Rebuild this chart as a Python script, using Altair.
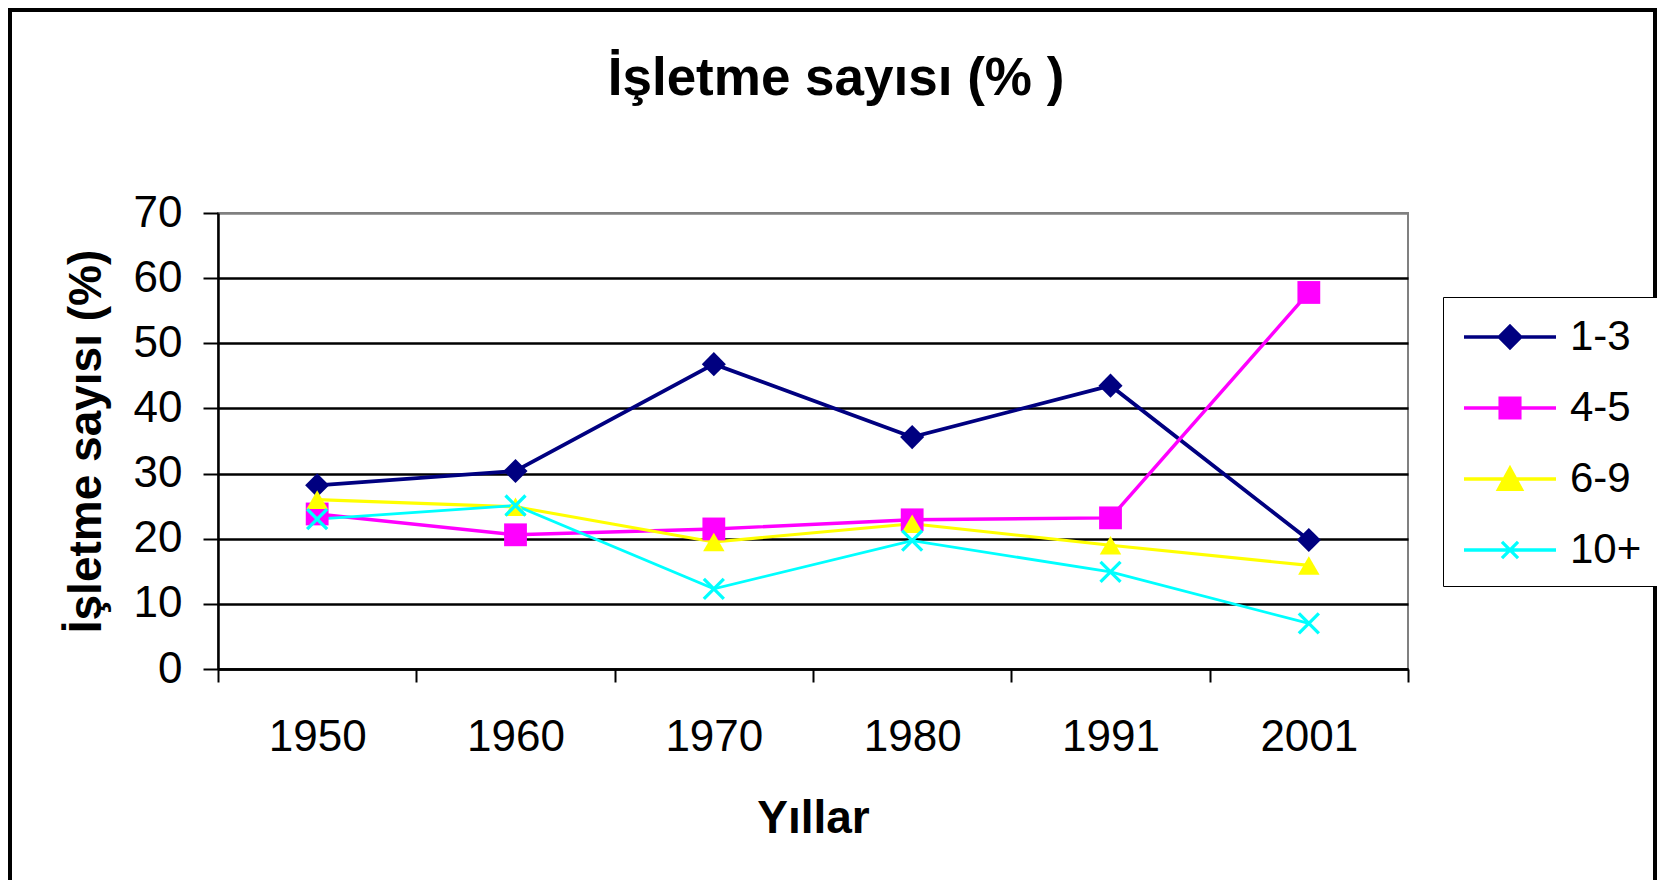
import altair as alt
import pandas as pd

# ---- data ----
years = ["1950", "1960", "1970", "1980", "1991", "2001"]
series_names = ["1-3", "4-5", "6-9", "10+"]
s_1_3 = [28.2, 30.4, 46.8, 35.6, 43.5, 19.8]
s_4_5 = [23.8, 20.6, 21.5, 22.9, 23.2, 57.8]
s_6_9 = [26.0, 24.9, 19.5, 22.3, 19.0, 15.9]
s_10p = [23.0, 25.1, 12.3, 19.7, 14.9, 7.0]
y_ticks = [0, 10, 20, 30, 40, 50, 60, 70]

colors = ["#000080", "#FF00FF", "#FFFF00", "#00FFFF"]
shapes = ["diamond", "square", "triangle-up", "M-1,-1L1,1M-1,1L1,-1"]
sizes = [580, 400, 620, 300]
line_widths = [3.8, 2.8, 3.8, 3.8]
# legend symbols: a line with the series marker in the middle
leg_paths = [
    "M-2,0L2,0M0,-0.47L0.47,0L0,0.47L-0.47,0Z",
    "M-2,0L2,0M-0.43,-0.43L0.43,-0.43L0.43,0.43L-0.43,0.43Z",
    "M-2,0L2,0M0,-0.47L0.5,0.45L-0.5,0.45Z",
    "M-2,0L2,0M-0.35,-0.35L0.35,0.35M-0.35,0.35L0.35,-0.35",
]

FONT = "Liberation Sans"

rows = []
for name, vals in zip(series_names, [s_1_3, s_4_5, s_6_9, s_10p]):
    for yr, v in zip(years, vals):
        rows.append({"year": yr, "value": v, "series": name})
df = pd.DataFrame(rows)

x_enc = alt.X(
    "year:O",
    sort=years,
    bandPosition=0.5,
    scale=alt.Scale(type="band", paddingInner=0, paddingOuter=0),
    axis=alt.Axis(
        title="Yıllar",
        labelAngle=0,
        tickBand="extent",
        tickSize=13,
        tickWidth=2,
        tickColor="black",
        domainColor="black",
        domainWidth=2.5,
        labelPadding=33,
        labelFontSize=44,
        labelFont=FONT,
        labelColor="black",
        titleFont=FONT,
        titleFontSize=46,
        titleFontWeight="bold",
        titleColor="black",
        titleX=595,
        titleY=163,
        titleBaseline="alphabetic",
        titleAlign="center",
        grid=False,
    ),
)

y_enc = alt.Y(
    "value:Q",
    scale=alt.Scale(domain=[0, 70], nice=False),
    axis=alt.Axis(
        title="İşletme sayısı (%)",
        values=y_ticks,
        tickSize=15,
        tickWidth=2,
        tickColor="black",
        domainColor="black",
        domainWidth=2.5,
        labelPadding=21,
        labelFontSize=44,
        labelFont=FONT,
        labelColor="black",
        titleFont=FONT,
        titleFontSize=46,
        titleFontWeight="bold",
        titleColor="black",
        titleX=-118,
        titleY=228,
        titleAngle=270,
        titleBaseline="alphabetic",
        titleAlign="center",
        grid=True,
        gridColor={"condition": {"test": "datum.value == 70", "value": "#808080"}, "value": "black"},
        gridWidth=2.3,
    ),
)

legend = alt.Legend(
    title=None,
    orient="none",
    legendX=1225,
    legendY=84,
    strokeColor="black",
    fillColor="white",
    padding=15,
    symbolSize=2116,
    symbolOffset=27,
    symbolStrokeWidth=3.3,
    symbolOpacity=1,
    labelOffset=35,
    rowPadding=25,
    labelFont=FONT,
    labelFontSize=42,
    labelColor="black",
)

base = alt.Chart(df)

lines = base.mark_line().encode(
    x=x_enc,
    y=y_enc,
    color=alt.Color("series:N", scale=alt.Scale(domain=series_names, range=colors), legend=None),
    detail="series:N",
    strokeWidth=alt.StrokeWidth("series:N", scale=alt.Scale(domain=series_names, range=line_widths), legend=None),
    order=alt.Order("year:O"),
)

points = base.mark_point(filled=True, opacity=1).encode(
    x=x_enc,
    y=y_enc,
    color=alt.Color("series:N", scale=alt.Scale(domain=series_names, range=colors), legend=None),
    stroke=alt.Stroke("series:N", scale=alt.Scale(domain=series_names, range=colors), legend=None),
    shape=alt.Shape("series:N", scale=alt.Scale(domain=series_names, range=shapes), legend=None),
    size=alt.Size("series:N", scale=alt.Scale(domain=series_names, range=sizes), legend=None),
    strokeWidth=alt.condition(alt.datum.series == "10+", alt.value(3.3), alt.value(0)),
)

legend_layer = base.transform_filter("false").mark_point(filled=True, opacity=1, strokeWidth=3.3).encode(
    x=x_enc,
    y=y_enc,
    color=alt.Color("series:N", scale=alt.Scale(domain=series_names, range=colors),
                    sort=series_names, legend=legend),
    stroke=alt.Stroke("series:N", scale=alt.Scale(domain=series_names, range=colors),
                      sort=series_names, legend=legend),
    shape=alt.Shape("series:N", scale=alt.Scale(domain=series_names, range=leg_paths),
                    sort=series_names, legend=legend),
)

frame = alt.Chart(alt.Data(values=[{"k": 1}])).mark_rect(
    fill=None, stroke="black", strokeWidth=4
).encode(
    x=alt.value(-208), x2=alt.value(1437), y=alt.value(-203), y2=alt.value(700)
)

chart = (
    alt.layer(frame, lines, points, legend_layer)
    .resolve_scale(shape="independent", color="independent", stroke="independent",
                   strokeWidth="independent")
    .resolve_legend(shape="independent", color="independent", stroke="independent")
    .properties(
        width=1190,
        height=456,
        autosize=alt.AutoSizeParams(type="none"),
        padding={"left": 210, "top": 205, "right": 249, "bottom": 211},
        title=alt.TitleParams(
            "İşletme sayısı (% )",
            font=FONT,
            fontSize=53,
            fontWeight="bold",
            color="black",
            anchor="middle",
            dx=23,
            offset=-140,
            baseline="alphabetic",
        ),
        background="white",
    )
    .configure_view(stroke="#808080", strokeWidth=2)
)

chart.save("out.html", embed_options={"renderer": "svg", "actions": False})
